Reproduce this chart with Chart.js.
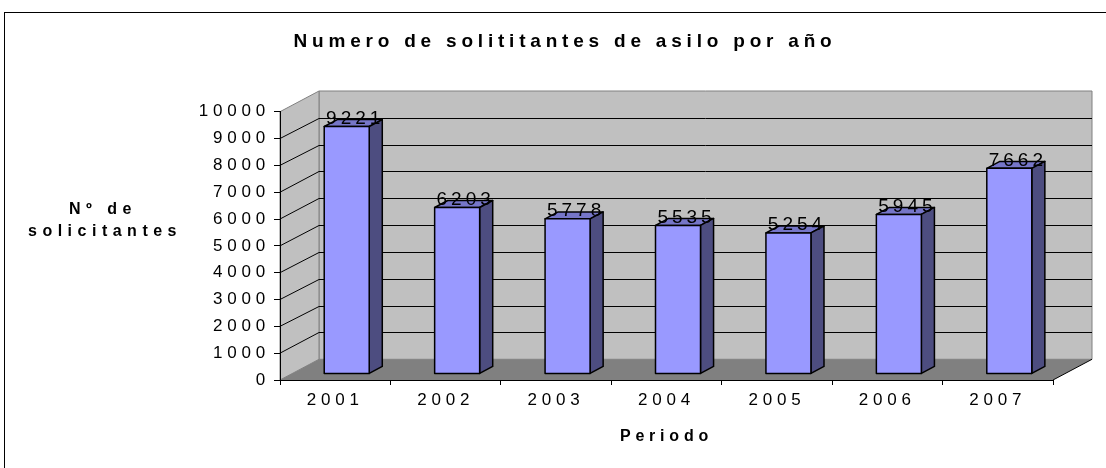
<!DOCTYPE html>
<html>
<head>
<meta charset="utf-8">
<script src="https://cdn.jsdelivr.net/npm/chart.js@4/dist/chart.umd.min.js"></script>
<style>
  body { margin: 0; background: #fff; }
  #chart { display: block; }
</style>
</head>
<body>
<canvas id="chart" width="1106" height="468"></canvas>
<script>
// Datos
const years = ["2001", "2002", "2003", "2004", "2005", "2006", "2007"];
const solicitantes = [9221, 6203, 5778, 5535, 5254, 5945, 7662];
const yMin = 0, yMax = 10000, yStep = 1000;
const titulo = "Numero de solititantes de asilo por año";
const tituloY = ["Nº de", "solicitantes"];
const tituloX = "Periodo";

const FONT = "'Liberation Sans', Arial, sans-serif";
// desplazamiento de la pared del fondo respecto al eje frontal
const DX = 39, DY = -20.7;
// profundidad de las barras (fraccion de la caja)
const FRONT = 0.295, BACK = 0.63;

function poly(ctx, pts, fill, stroke, lw) {
  ctx.beginPath();
  ctx.moveTo(pts[0][0], pts[0][1]);
  for (let i = 1; i < pts.length; i++) ctx.lineTo(pts[i][0], pts[i][1]);
  ctx.closePath();
  if (fill) { ctx.fillStyle = fill; ctx.fill(); }
  if (stroke) { ctx.strokeStyle = stroke; ctx.lineWidth = lw || 1; ctx.stroke(); }
}

function line(ctx, x1, y1, x2, y2, color) {
  ctx.beginPath();
  ctx.moveTo(x1, y1);
  ctx.lineTo(x2, y2);
  ctx.strokeStyle = color;
  ctx.lineWidth = 1;
  ctx.stroke();
}

// Dibuja las paredes, el suelo y las barras en 3D
const box3d = {
  id: "box3d",
  beforeDraw(chart) {
    const ctx = chart.ctx;
    ctx.letterSpacing = "4.8px";
    const x = chart.scales.x, y = chart.scales.y;
    const l = x.left, r = x.right;
    const b = y.getPixelForValue(yMin), t = y.getPixelForValue(yMax);
    ctx.save();
    ctx.strokeStyle = "#000";
    ctx.lineWidth = 1;
    ctx.strokeRect(4.5, 12.5, 1200, 600);

    // pared del fondo
    poly(ctx, [[l + DX, t + DY], [r + DX, t + DY], [r + DX, b + DY], [l + DX, b + DY]], "#c0c0c0", "#808080");
    // pared lateral
    poly(ctx, [[l, b], [l, t], [l + DX, t + DY], [l + DX, b + DY]], "#c0c0c0", "#808080");
    // suelo
    poly(ctx, [[l, b], [r, b], [r + DX, b + DY], [l + DX, b + DY]], "#808080", null);
    line(ctx, r, b, r + DX, b + DY, "#000");

    // lineas de division
    for (let v = yMin + yStep; v < yMax; v += yStep) {
      const py = y.getPixelForValue(v);
      const by = Math.round(py + DY) + 0.5;
      line(ctx, l + DX, by, r + DX, by, "#000");
      line(ctx, l, py, l + DX, by, "#000");
    }
    ctx.restore();
  },
  afterDatasetsDraw(chart) {
    const ctx = chart.ctx;
    const meta = chart.getDatasetMeta(0);
    const fx = FRONT * DX, fy = FRONT * DY;
    const sx = (BACK - FRONT) * DX, sy = (BACK - FRONT) * DY;
    ctx.save();
    ctx.lineJoin = "round";
    meta.data.forEach((el, i) => {
      const p = el.getProps(["x", "y", "base", "width"], true);
      const L = p.x - p.width / 2 + fx, R = L + p.width;
      const T = p.y + fy, B = p.base + fy;
      // cara superior
      poly(ctx, [[L, T], [R, T], [R + sx, T + sy], [L + sx, T + sy]], "#7676c8", "#000", 1.5);
      // cara lateral
      poly(ctx, [[R, T], [R + sx, T + sy], [R + sx, B + sy], [R, B]], "#4d4d80", "#000", 1.5);
      // cara frontal
      poly(ctx, [[L, T], [R, T], [R, B], [L, B]], "#9999ff", "#000", 1.5);

      ctx.font = "19px " + FONT;
      ctx.letterSpacing = "4px";
      ctx.fillStyle = "#000";
      ctx.textAlign = "center";
      ctx.textBaseline = "alphabetic";
      ctx.fillText(String(solicitantes[i]), L + p.width / 2 + sx / 2 + 2, T + sy / 2 + 1);
    });
    ctx.restore();
  },
  afterDraw(chart) {
    const ctx = chart.ctx;
    ctx.save();
    ctx.font = "bold 16px " + FONT;
    ctx.letterSpacing = "5.5px";
    ctx.fillStyle = "#000";
    ctx.textAlign = "center";
    ctx.textBaseline = "alphabetic";
    ctx.fillText(tituloY[0], 103, 214);
    ctx.fillText(tituloY[1], 105, 236);
    ctx.restore();
  }
};

new Chart(document.getElementById("chart"), {
  type: "bar",
  data: {
    labels: years,
    datasets: [{
      label: "Solicitantes",
      data: solicitantes,
      backgroundColor: "rgba(0,0,0,0)",
      borderWidth: 0,
      barPercentage: 0.4075,
      categoryPercentage: 1
    }]
  },
  options: {
    responsive: false,
    animation: false,
    layout: { padding: { left: 77, right: 53, top: 0, bottom: 0 } },
    plugins: {
      legend: { display: false },
      tooltip: { enabled: false },
      title: {
        display: true,
        text: titulo,
        color: "#000",
        font: { family: FONT, size: 19, weight: "bold" },
        padding: { top: 30.3, bottom: 58.6 }
      }
    },
    scales: {
      x: {
        grid: { drawOnChartArea: false, tickLength: 5, color: "#000" },
        border: { color: "#000" },
        ticks: { color: "#000", font: { family: FONT, size: 17 }, padding: 5 },
        title: {
          display: true,
          text: tituloX,
          color: "#000",
          font: { family: FONT, size: 16, weight: "bold" },
          padding: { top: 0, bottom: 22 }
        },
        afterFit(s) { s.height = 88; }
      },
      y: {
        min: yMin,
        max: yMax,
        ticks: {
          stepSize: yStep,
          color: "#000",
          font: { family: FONT, size: 17 },
          padding: 4,
          callback: v => String(v)
        },
        grid: { drawOnChartArea: false, tickLength: 6, color: "#000" },
        border: { color: "#000" },
        afterFit(s) { s.width = 203; }
      }
    }
  },
  plugins: [box3d]
});
</script>
</body>
</html>
